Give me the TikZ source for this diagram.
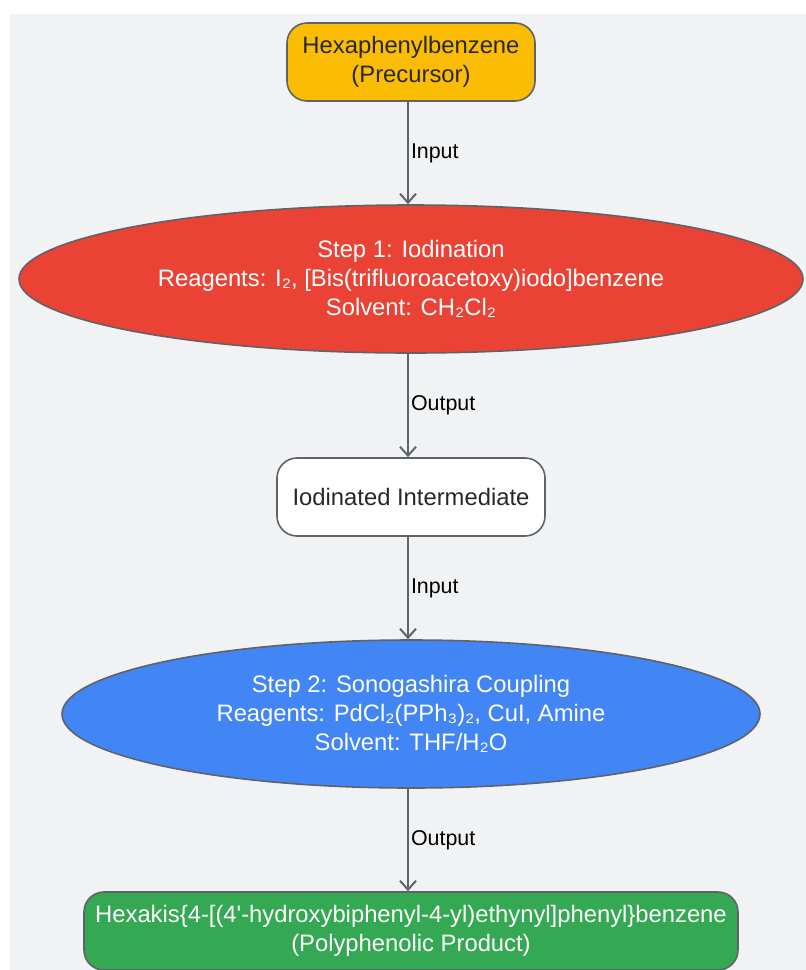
\documentclass[tikz,border=0pt]{standalone}
\usepackage{fontspec}
\setmainfont{Liberation Sans}
\usetikzlibrary{shapes, arrows.meta}
\definecolor{mybg}{RGB}{241, 242, 244}
\definecolor{myyellow}{RGB}{251, 188, 4}
\definecolor{myred}{RGB}{234, 67, 53}
\definecolor{myblue}{RGB}{66, 133, 244}
\definecolor{mygreen}{RGB}{52, 168, 83}
\definecolor{myline}{RGB}{95, 99, 104}
\definecolor{mytext}{RGB}{40, 40, 40}

\begin{document}
\begin{tikzpicture}[
    x = 1pt, y = -1pt,
    every node/.style = {font = \fontsize{23.8}{29}\selectfont},
    box/.style = {draw = myline, line width = 1.6pt, rounded corners = 20pt, minimum height = 78pt, align = center, inner sep = 0pt},
    oval/.style = {ellipse, draw = myline, line width = 1.6pt, minimum height = 148pt, align = center, inner sep = 0pt, text = white},
    link/.style = {draw = myline, line width = 2pt, -{Straight Barb[length = 9pt, width = 16pt, line width = 2pt]}},
    lab/.style = {anchor = west, inner sep = 2pt, text = black, font = \fontsize{21.4}{25}\selectfont},
]

\useasboundingbox (0,0) rectangle (806,970);
\fill[mybg] (10,14) rectangle (806,970);

\node[box, fill = myyellow, text = mytext, minimum width = 248pt] (pre) at (411,62) {Hexaphenylbenzene\\(Precursor)};
\node[oval, fill = myred, minimum width = 784pt] (step1) at (411,279) {Step 1: Iodination\\Reagents: I₂, [Bis(trifluoroacetoxy)iodo]benzene\\Solvent: CH₂Cl₂};
\node[box, fill = white, text = mytext, minimum width = 268pt] (inter) at (411,497) {Iodinated Intermediate};
\node[oval, fill = myblue, minimum width = 698pt] (step2) at (411,714) {Step 2: Sonogashira Coupling\\Reagents: PdCl₂(PPh₃)₂, CuI, Amine\\Solvent: THF/H₂O};
\node[box, fill = mygreen, text = white, minimum width = 654pt] (prod) at (411,931) {Hexakis\{4-[(4\textquotesingle-hydroxybiphenyl-4-yl)ethynyl]phenyl\}benzene\\(Polyphenolic Product)};

\draw[link] ([xshift = -3pt]pre.south) -- node[lab] {Input} ([xshift = -3pt]step1.north);
\draw[link] ([xshift = -3pt]step1.south) -- node[lab] {Output} ([xshift = -3pt]inter.north);
\draw[link] ([xshift = -3pt]inter.south) -- node[lab] {Input} ([xshift = -3pt]step2.north);
\draw[link] ([xshift = -3pt]step2.south) -- node[lab] {Output} ([xshift = -3pt]prod.north);

\end{tikzpicture}
\end{document}
